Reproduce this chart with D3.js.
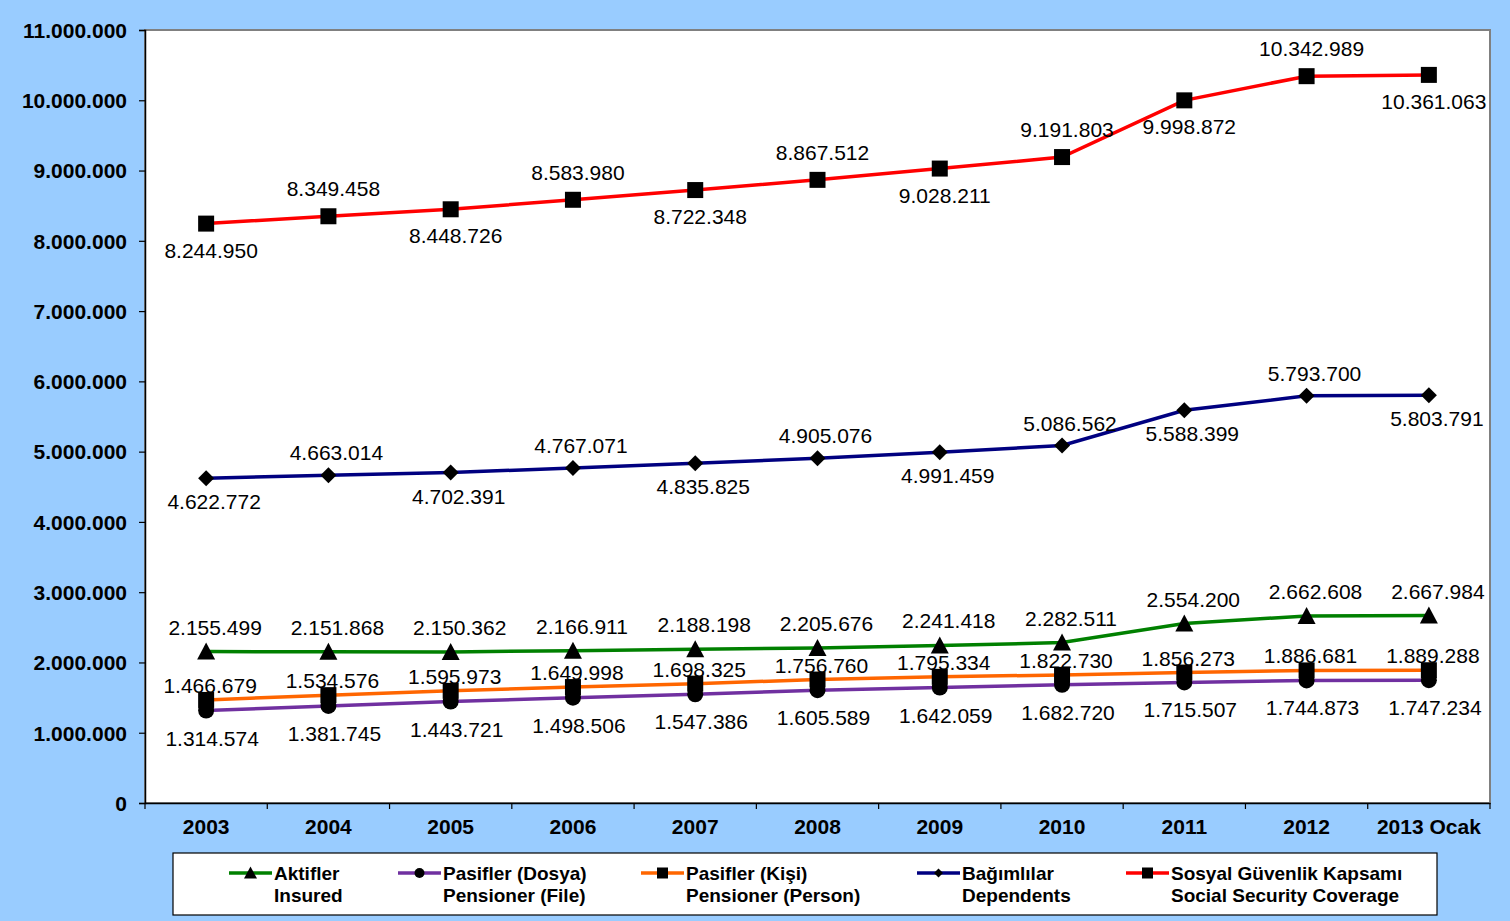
<!DOCTYPE html>
<html><head><meta charset="utf-8">
<script src="https://cdn.jsdelivr.net/npm/d3@7"></script>
<style>
html,body{margin:0;padding:0;background:#99CCFF;}
svg{display:block;font-family:Arial,"Liberation Sans",sans-serif;}
</style></head>
<body><svg id="c" width="1510" height="921"></svg>
<script>
const categories = ["2003","2004","2005","2006","2007","2008","2009","2010","2011","2012","2013 Ocak"];
const aktifler = [2155499,2151868,2150362,2166911,2188198,2205676,2241418,2282511,2554200,2662608,2667984];
const pasiflerDosya = [1314574,1381745,1443721,1498506,1547386,1605589,1642059,1682720,1715507,1744873,1747234];
const pasiflerKisi = [1466679,1534576,1595973,1649998,1698325,1756760,1795334,1822730,1856273,1886681,1889288];
const bagimlilar = [4622772,4663014,4702391,4767071,4835825,4905076,4991459,5086562,5588399,5793700,5803791];
const sosyal = [8244950,8349458,8448726,8583980,8722348,8867512,9028211,9191803,9998872,10342989,10361063];
const yTicks = [0,1000000,2000000,3000000,4000000,5000000,6000000,7000000,8000000,9000000,10000000,11000000];

const series = [
  {name1:"Aktifler", name2:"Insured", values:aktifler, color:"#008000", marker:"triangle", pos:"above", dx:9, up:-17, down:0},
  {name1:"Pasifler (Dosya)", name2:"Pensioner (File)", values:pasiflerDosya, color:"#7030A0", marker:"circle", pos:"below", dx:6, up:0, down:35},
  {name1:"Pasifler (Kişi)", name2:"Pensioner (Person)", values:pasiflerKisi, color:"#FF6600", marker:"square", pos:"above", dx:4, up:-7, down:0},
  {name1:"Bağımlılar", name2:"Dependents", values:bagimlilar, color:"#000080", marker:"diamond", pos:"alt", dx:8, up:-15, down:31},
  {name1:"Sosyal Güvenlik Kapsamı", name2:"Social Security Coverage", values:sosyal, color:"#FF0000", marker:"square", pos:"alt", dx:5, up:-20, down:34}
];

const svg = d3.select("#c");
const L=145, R=1490, T=30, B=803;
const x = d3.scaleBand().domain(categories).range([L,R]);
const y = d3.scaleLinear().domain([0,11000000]).range([B,T]);
const fmt = v => d3.format(",")(v).replace(/,/g,".");
const FF = "Arial,'Liberation Sans',sans-serif";

svg.append("rect").attr("x",L).attr("y",T).attr("width",R-L).attr("height",B-T)
  .attr("fill","#fff").attr("stroke","#808080").attr("stroke-width",2);

const ya = svg.append("g").attr("transform",`translate(${L},0)`)
  .call(d3.axisLeft(y).tickValues(yTicks).tickFormat(fmt).tickSize(6).tickPadding(12));
ya.select(".domain").attr("stroke","#000").attr("stroke-width",1.5);
ya.selectAll(".tick line").attr("stroke","#000").attr("stroke-width",1.2);
ya.selectAll("text").attr("font-size",21).attr("font-weight","bold").attr("fill","#000")
  .attr("font-family",FF).attr("dy","0.35em");

const xa = svg.append("g").attr("transform",`translate(0,${B})`)
  .call(d3.axisBottom(x).tickSize(0).tickPadding(16));
xa.select(".domain").attr("stroke","#000").attr("stroke-width",1.5);
xa.selectAll("text").attr("font-size",21).attr("font-weight","bold").attr("fill","#000")
  .attr("font-family",FF);
const edges = categories.map(c=>x(c)).concat([R]);
svg.append("g").selectAll("line").data(edges).join("line")
  .attr("x1",d=>d).attr("x2",d=>d).attr("y1",B).attr("y2",B+6)
  .attr("stroke","#000").attr("stroke-width",1.2);

const cx = c => x(c)+x.bandwidth()/2;

function drawMarker(g, type, px, py, s){
  if(type==="triangle"){
    g.append("path").attr("d",`M${px},${py-s-1}L${px+s+1},${py+s}L${px-s-1},${py+s}Z`).attr("fill","#000");
  } else if(type==="circle"){
    g.append("circle").attr("cx",px).attr("cy",py).attr("r",s).attr("fill","#000");
  } else if(type==="square"){
    g.append("rect").attr("x",px-s).attr("y",py-s).attr("width",2*s).attr("height",2*s).attr("fill","#000");
  } else if(type==="diamond"){
    g.append("path").attr("d",`M${px},${py-s}L${px+s},${py}L${px},${py+s}L${px-s},${py}Z`).attr("fill","#000");
  }
}

const line = d3.line().x((d,i)=>cx(categories[i])).y(d=>y(d));
const drawOrder = [1,2,0,3,4];
drawOrder.forEach(si=>{
  const s = series[si];
  svg.append("path").datum(s.values).attr("d",line).attr("fill","none")
    .attr("stroke",s.color).attr("stroke-width",3.5);
});
drawOrder.forEach(si=>{
  const s = series[si];
  const g = svg.append("g");
  s.values.forEach((v,i)=>drawMarker(g, s.marker, cx(categories[i]), y(v), 8));
});
series.forEach(s=>{
  const g = svg.append("g");
  s.values.forEach((v,i)=>{
    const above = s.pos==="above" || (s.pos==="alt" && i%2===1);
    const py = y(v);
    g.append("text").attr("x",cx(categories[i])+s.dx)
      .attr("y", above ? py+s.up : py+s.down)
      .attr("text-anchor","middle").attr("font-size",21).attr("font-family",FF)
      .attr("fill","#000").text(fmt(v));
  });
});

svg.append("rect").attr("x",173).attr("y",853).attr("width",1264).attr("height",62)
  .attr("fill","#fff").attr("stroke","#000").attr("stroke-width",1.2);
const legX = [229,398,641,917,1126];
series.forEach((s,i)=>{
  const g = svg.append("g");
  const lx = legX[i];
  g.append("line").attr("x1",lx).attr("x2",lx+43).attr("y1",873).attr("y2",873)
    .attr("stroke",s.color).attr("stroke-width",3.5);
  const ms = s.marker==="circle"?5:(s.marker==="diamond"?4.5:5.5);
  drawMarker(g, s.marker, lx+21.5, 873, ms);
  g.append("text").attr("x",lx+45).attr("y",880).attr("font-size",19).attr("font-weight","bold")
    .attr("font-family",FF).text(s.name1);
  g.append("text").attr("x",lx+45).attr("y",902).attr("font-size",19).attr("font-weight","bold")
    .attr("font-family",FF).text(s.name2);
});
</script></body></html>
